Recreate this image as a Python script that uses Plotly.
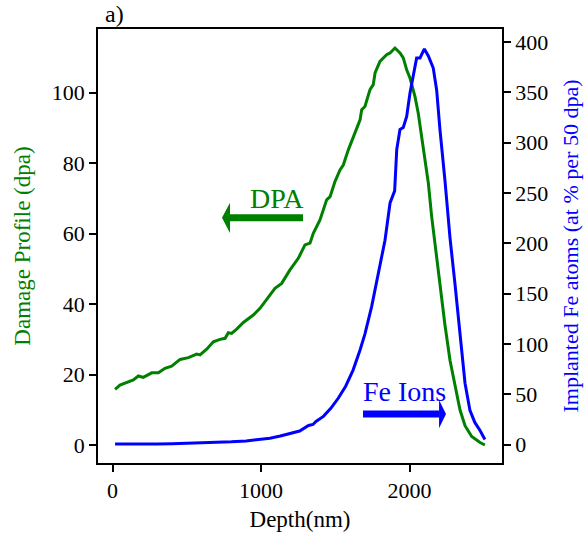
import plotly.graph_objects as go

# Damage profile (dpa), left axis
dpa_depth = [17, 50, 140, 174, 207, 264, 309, 353, 398, 455, 511, 567, 589, 634, 679, 724, 758, 780, 802,
             836, 881, 948, 993, 1038, 1094, 1139, 1195, 1251, 1296, 1330, 1352, 1397, 1442, 1465, 1498,
             1532, 1554, 1588, 1633, 1667, 1678, 1700, 1734, 1756, 1768, 1801, 1846, 1869, 1902, 1936,
             1958, 1981, 2003, 2037, 2059, 2082, 2104, 2127, 2149, 2172, 2205, 2239, 2273, 2306, 2340,
             2374, 2419, 2475, 2508]
dpa_value = [15.8, 17.0, 18.5, 19.6, 19.2, 20.5, 20.5, 21.8, 22.4, 24.3, 24.8, 25.8, 25.6, 27.2, 29.3, 30.0,
             30.3, 31.9, 31.7, 32.9, 34.8, 36.9, 38.8, 41.2, 44.5, 45.9, 49.7, 53.0, 56.8, 57.3, 60.1, 63.9,
             69.6, 70.5, 74.8, 78.1, 79.5, 83.8, 88.6, 92.3, 95.2, 96.1, 100.9, 102.3, 105.6, 108.9, 110.8,
             111.3, 112.7, 111.3, 109.9, 106.5, 104.2, 98.9, 94.2, 87.6, 81.9, 74.3, 65.0, 57.0, 44.5, 34.0,
             24.0, 17.0, 10.0, 5.5, 2.4, 0.7, 0.0]

# Implanted Fe atoms, right axis
fe_depth = [17, 100, 200, 300, 400, 500, 600, 700, 800, 900, 1000, 1060, 1130, 1195, 1260, 1320, 1350,
            1370, 1420, 1470, 1520, 1570, 1620, 1667, 1700, 1745, 1790, 1835, 1869, 1900, 1914, 1936,
            1958, 1981, 2003, 2037, 2048, 2071, 2100, 2127, 2160, 2183, 2205, 2239, 2273, 2306, 2329,
            2351, 2374, 2407, 2440, 2475, 2508]
fe_value = [0.6, 0.4, 0.3, 0.5, 0.9, 1.3, 1.6, 1.9, 2.7, 3.6, 5.3, 6.3, 8.5, 11.2, 13.5, 19.0, 20.0, 23.0,
            28.0, 36.0, 46.0, 58.0, 74.0, 94.0, 110.0, 137.0, 170.0, 203.0, 240.0, 252.0, 293.0, 313.0,
            315.0, 326.0, 349.0, 376.0, 384.0, 384.0, 393.0, 386.0, 374.0, 352.0, 313.0, 262.0, 205.0,
            160.0, 127.0, 91.0, 61.0, 34.0, 22.0, 14.0, 5.0]

x_ticks = [0, 1000, 2000]
y_ticks = [0, 20, 40, 60, 80, 100]
y2_ticks = [0, 50, 100, 150, 200, 250, 300, 350, 400]

GREEN = "#008000"
BLUE = "#0000ff"
FONT = "Liberation Serif, Times New Roman, serif"

fig = go.Figure()
fig.add_trace(go.Scatter(x=dpa_depth, y=dpa_value, mode="lines",
                         line=dict(color=GREEN, width=3), yaxis="y", showlegend=False))
fig.add_trace(go.Scatter(x=fe_depth, y=fe_value, mode="lines",
                         line=dict(color=BLUE, width=3), yaxis="y2", showlegend=False))

axis_common = dict(showline=True, linecolor="black", linewidth=1.5, ticks="outside", ticklen=7,
                   tickwidth=1.5, tickcolor="black", showgrid=False, zeroline=False,
                   tickfont=dict(family=FONT, size=22, color="black"))

fig.update_layout(
    width=585, height=535,
    margin=dict(l=98, r=83, t=29, b=72),
    paper_bgcolor="white", plot_bgcolor="white",
    font=dict(family=FONT, color="black"),
    xaxis=dict(range=[-98, 2623], tickvals=x_ticks, mirror=True,
               title=dict(text="Depth(nm)", font=dict(family=FONT, size=23, color="black"), standoff=9),
               automargin=False, **axis_common),
    yaxis=dict(range=[-5.1, 118.1], tickvals=y_ticks,
               title=dict(text="Damage Profile (dpa)", font=dict(family=FONT, size=23, color=GREEN), standoff=15),
               automargin=False, **axis_common),
    yaxis2=dict(range=[-18.3, 412.8], tickvals=y2_ticks, overlaying="y", side="right",
                title=dict(text="Implanted Fe atoms (at % per 50 dpa)", font=dict(family=FONT, size=22, color=BLUE), standoff=15),
                automargin=False, **axis_common),
)

# Arrows
fig.add_shape(type="line", xref="x", yref="y", x0=1283, x1=791, y0=64.5, y1=64.5,
              line=dict(color=GREEN, width=7))
fig.add_shape(type="path", xref="x", yref="y", path="M 791,68.8 L 737,64.5 L 791,60.2 Z",
              fillcolor=GREEN, line=dict(color=GREEN, width=0))
fig.add_shape(type="line", xref="x", yref="y", x0=1687, x1=2199, y0=8.8, y1=8.8,
              line=dict(color=BLUE, width=7))
fig.add_shape(type="path", xref="x", yref="y", path="M 2199,12.8 L 2246,8.8 L 2199,4.8 Z",
              fillcolor=BLUE, line=dict(color=BLUE, width=0))

fig.add_annotation(x=1108, y=69.9, xref="x", yref="y", text="DPA", showarrow=False,
                   font=dict(family=FONT, size=28, color=GREEN))
fig.add_annotation(x=1963, y=15.3, xref="x", yref="y", text="Fe Ions", showarrow=False,
                   font=dict(family=FONT, size=28, color=BLUE))
fig.add_annotation(x=0.012, y=0.999, xref="paper", yref="paper", text="a)", showarrow=False,
                   yanchor="bottom", font=dict(family=FONT, size=24, color="black"))

fig.write_html("out.html")
